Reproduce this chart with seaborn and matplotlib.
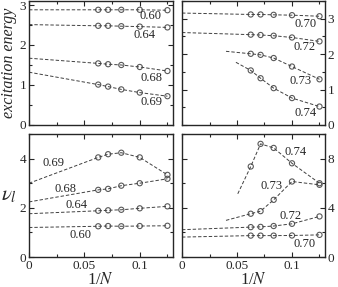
import matplotlib
matplotlib.use("Agg")
import matplotlib.pyplot as plt
import seaborn as sns
from matplotlib.ticker import MultipleLocator

sns.set_style("ticks")
plt.rcParams['font.family'] = ['Liberation Serif', 'DejaVu Serif']
plt.rcParams['mathtext.fontset'] = 'stix'

# 1/N for N = 16, 14, 12, 10, 8
inv_n = [1/16, 1/14, 1/12, 1/10, 1/8]

# ---- top-left: excitation energy, small couplings
e_labels_a = ["0.60", "0.64", "0.68", "0.69"]
e_start_a = [(0, 2.88), (0, 2.51), (0, 1.67), (0, 1.32)]
e_vals_a = [
    [2.88, 2.88, 2.88, 2.88, 2.87],
    [2.48, 2.48, 2.47, 2.46, 2.44],
    [1.54, 1.52, 1.50, 1.45, 1.35],
    [1.01, 0.96, 0.89, 0.81, 0.72],
]
e_lab_pos_a = [(0.1096, 2.72), (0.104, 2.24), (0.111, 1.17), (0.111, 0.57)]

# ---- top-right: excitation energy, larger couplings
e_labels_b = ["0.70", "0.72", "0.73", "0.74"]
e_start_b = [(0, 3.16), (0, 2.61), (0.040, 2.08), (0.049, 1.77)]
e_vals_b = [
    [3.12, 3.12, 3.11, 3.10, 3.07],
    [2.55, 2.54, 2.52, 2.47, 2.36],
    [2.01, 1.98, 1.89, 1.65, 1.29],
    [1.54, 1.32, 1.04, 0.76, 0.52],
]
e_lab_pos_b = [(0.1123, 2.84), (0.111, 2.20), (0.108, 1.24), (0.112, 0.33)]

# ---- bottom-left: nu_l
n_labels_a = ["0.60", "0.64", "0.68", "0.69"]
n_start_a = [(0, 1.20), (0, 1.76), (0, 2.24), (0, 3.00)]
n_vals_a = [
    [1.25, 1.26, 1.25, 1.26, 1.27],
    [1.88, 1.90, 1.92, 1.98, 2.06],
    [2.73, 2.77, 2.90, 3.00, 3.18],
    [4.05, 4.18, 4.24, 4.05, 3.34],
]
n_lab_pos_a = [(0.0463, 0.89), (0.0433, 2.11), (0.033, 2.76), (0.0224, 3.81)]

# ---- bottom-right: nu_l
n_labels_b = ["0.70", "0.72", "0.73", "0.74"]
n_start_b = [(0, 1.62), (0, 2.22), (0.040, 2.98), (0.0507, 5.14)]
n_vals_b = [
    [1.74, 1.74, 1.74, 1.75, 1.80],
    [2.43, 2.45, 2.52, 2.70, 3.30],
    [3.52, 3.73, 4.65, 6.14, 5.87],
    [7.36, 9.20, 8.87, 7.62, 6.00],
]
n_lab_pos_b = [(0.111, 1.03), (0.0988, 3.31), (0.0817, 5.77), (0.1033, 8.54)]

fig = plt.figure(figsize=(3.38, 2.87), dpi=100)
ax_tl = fig.add_axes([0.0858, 0.5645, 0.426, 0.432])
ax_tr = fig.add_axes([0.5385, 0.5645, 0.423, 0.432])
ax_bl = fig.add_axes([0.0858, 0.1045, 0.426, 0.4285])
ax_br = fig.add_axes([0.5385, 0.1045, 0.423, 0.4285])


def draw(ax, starts, vals, labels, lab_pos):
    for (x0, y0), ys, lab, (lx, ly) in zip(starts, vals, labels, lab_pos):
        sns.lineplot(x=[x0] + inv_n, y=[y0] + ys, ax=ax, color='0.25',
                     linestyle=(0, (3.5, 2)), lw=0.7)
        sns.scatterplot(x=inv_n, y=ys, ax=ax, marker='o', s=14,
                        facecolor='none', edgecolor='0.35', linewidth=0.8)
        ax.text(lx, ly, lab, fontsize=9, ha='center', va='center')


draw(ax_tl, e_start_a, e_vals_a, e_labels_a, e_lab_pos_a)
draw(ax_tr, e_start_b, e_vals_b, e_labels_b, e_lab_pos_b)
draw(ax_bl, n_start_a, n_vals_a, n_labels_a, n_lab_pos_a)
draw(ax_br, n_start_b, n_vals_b, n_labels_b, n_lab_pos_b)

for ax in [ax_tl, ax_tr, ax_bl, ax_br]:
    ax.set_xlim(0, 0.13)
    ax.xaxis.set_major_locator(MultipleLocator(0.05))
    ax.xaxis.set_minor_locator(MultipleLocator(0.025))
    ax.tick_params(which='both', direction='in', top=True, right=True,
                   left=True, bottom=True, labelsize=9.5, pad=2, width=0.8)
    ax.tick_params(which='major', length=3.5)
    ax.tick_params(which='minor', length=2)
    for s in ax.spines.values():
        s.set_linewidth(1.0)
        s.set_visible(True)
    ax.set_xlabel("")
    ax.set_ylabel("")

ax_tl.set_ylim(0, 3.1)
ax_tr.set_ylim(0, 3.5)
ax_bl.set_ylim(0, 5)
ax_br.set_ylim(0, 10)

for ax in [ax_tl, ax_tr]:
    ax.yaxis.set_major_locator(MultipleLocator(1))
    ax.yaxis.set_minor_locator(MultipleLocator(0.5))
    ax.tick_params(labelbottom=False)
for ax in [ax_bl, ax_br]:
    ax.yaxis.set_major_locator(MultipleLocator(2 if ax is ax_bl else 4))
    ax.yaxis.set_minor_locator(MultipleLocator(1 if ax is ax_bl else 2))
    ax.set_xticks([0, 0.05, 0.1])
    ax.set_xticklabels(["0", "0.05", "0.1"])
    ax.set_xlabel("1/$N$", fontsize=12, labelpad=0)

ax_bl.set_yticks([0, 2, 4])
for ax in [ax_tr, ax_br]:
    ax.tick_params(labelleft=False, labelright=True)

ax_tl.set_ylabel("excitation energy", fontsize=11.5, style='italic', labelpad=2)
ax_bl.set_ylabel("$\\nu_{l}$", fontsize=15, rotation=0,
                 labelpad=8, va='center')

fig.savefig("out.png", dpi=100)
